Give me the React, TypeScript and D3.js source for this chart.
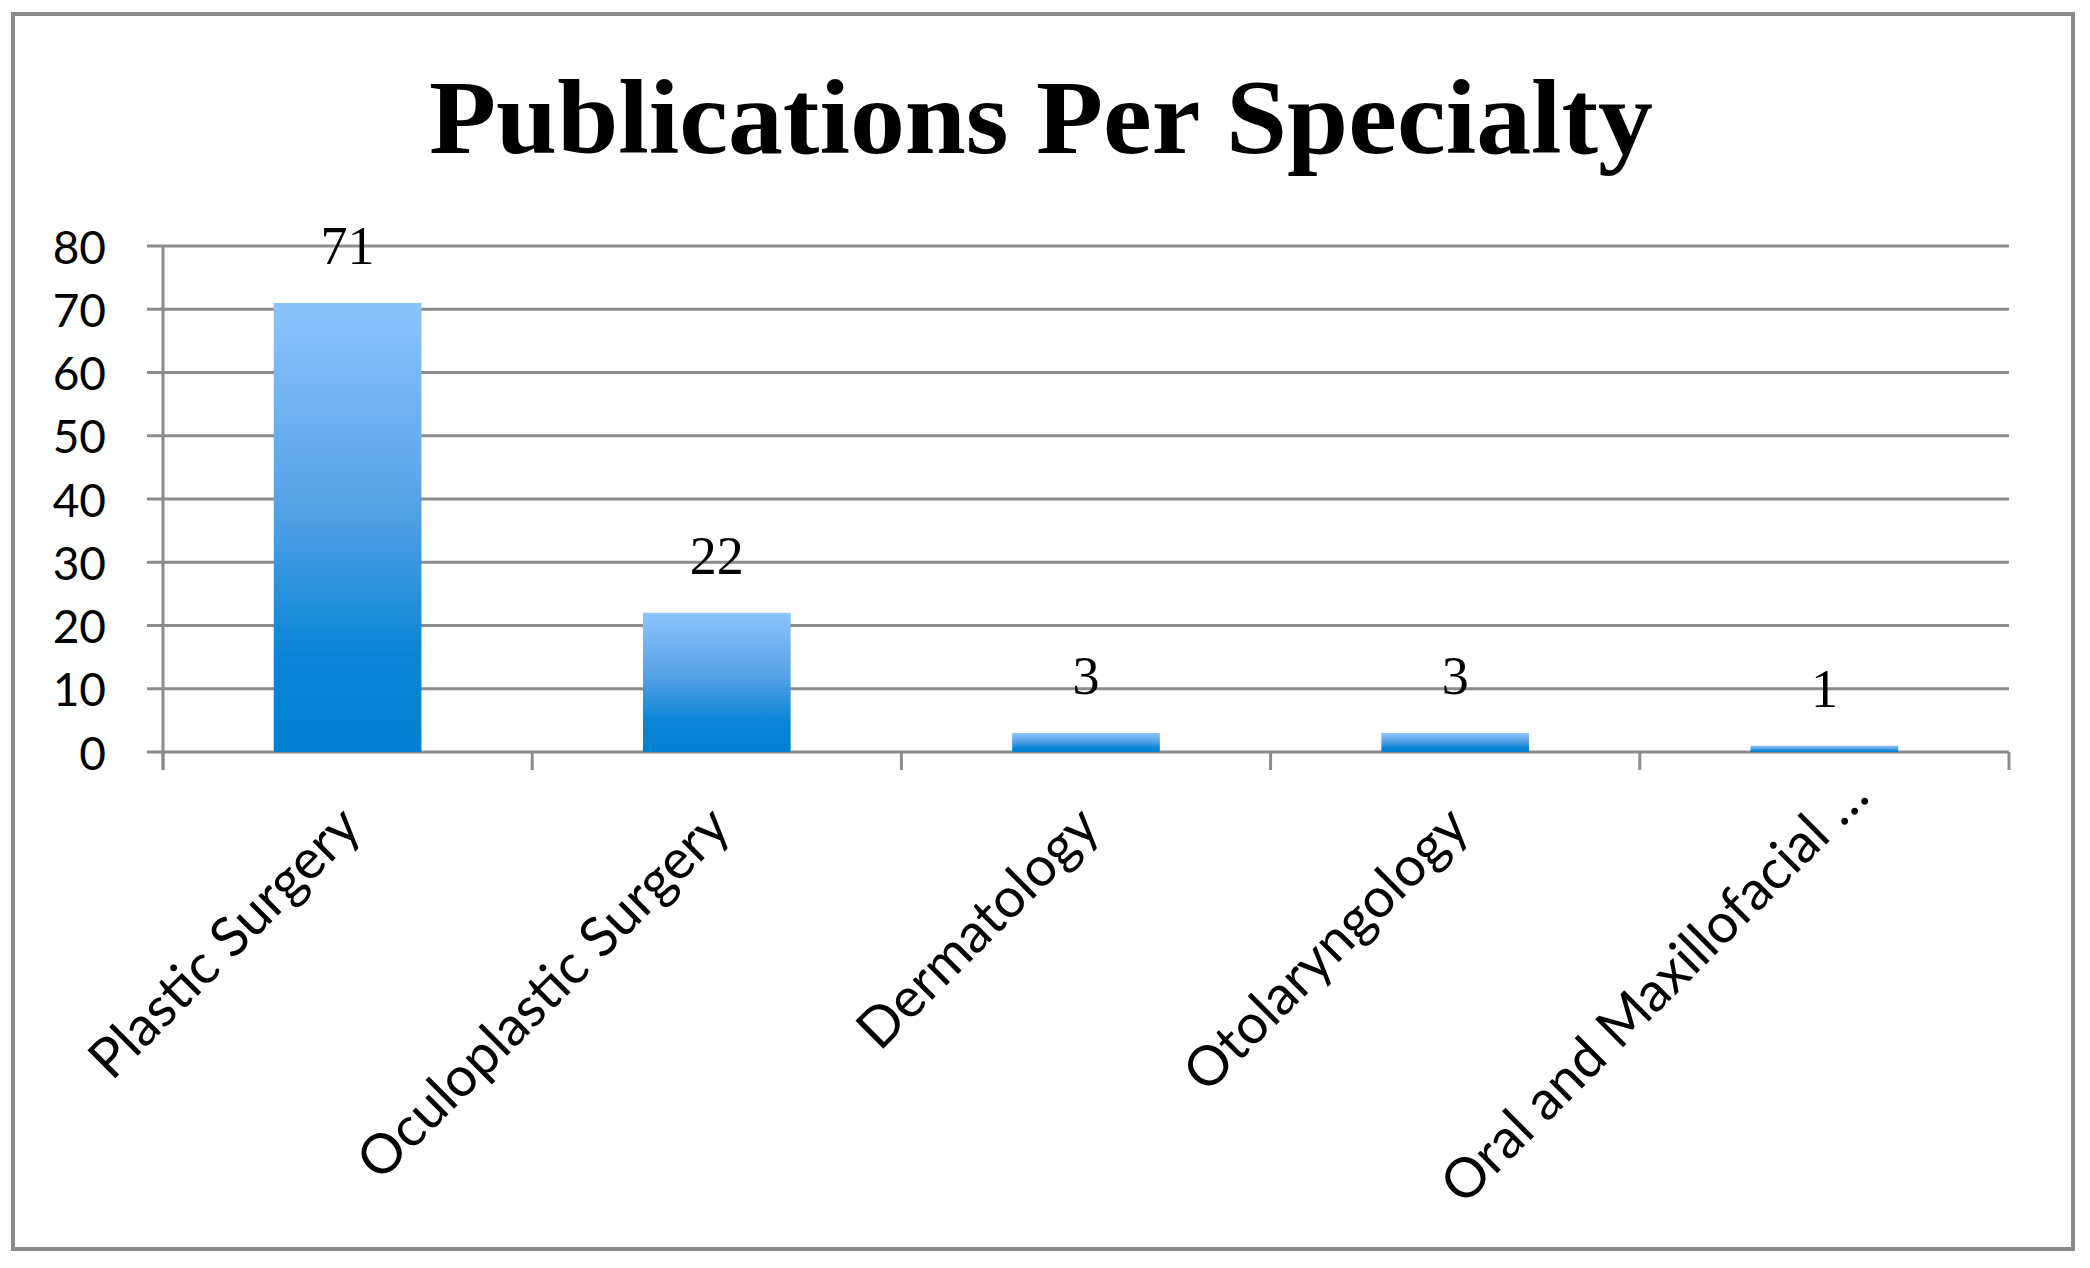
import React from "react";
import * as d3 from "d3";

const categories = [
  "Plastic Surgery",
  "Oculoplastic Surgery",
  "Dermatology",
  "Otolaryngology",
  "Oral and Maxillofacial \u2026",
];
const publications = [71, 22, 3, 3, 1];
const yTicks = [0, 10, 20, 30, 40, 50, 60, 70, 80];
const title = "Publications Per Specialty";

const W = 2090;
const H = 1268;
const plotLeft = 163;
const plotRight = 2009;
const plotTop = 246;
const plotBottom = 752;

export default function App() {
  const x = d3
    .scaleBand<string>()
    .domain(categories)
    .range([plotLeft, plotRight])
    .paddingInner(0.6)
    .paddingOuter(0.3);
  const y = d3.scaleLinear().domain([0, 80]).range([plotBottom, plotTop]);
  const step = x.step();
  const boundaries = d3.range(categories.length + 1).map((i) => plotLeft + i * step);
  const gridColor = "#8c8c8c";

  return (
    <svg
      width={W}
      height={H}
      viewBox={`0 0 ${W} ${H}`}
      style={{ position: "absolute", left: 0, top: 0, background: "#fff" }}
    >
      <defs>
        <linearGradient id="barGrad" x1="0" y1="0" x2="0" y2="1">
          <stop offset="0" stopColor="#8cc4fd" />
          <stop offset="0.45" stopColor="#56a2e6" />
          <stop offset="0.78" stopColor="#0a85d5" />
          <stop offset="1" stopColor="#0080d0" />
        </linearGradient>
      </defs>
      <rect x={0} y={0} width={W} height={H} fill="#fff" />
      {/* outer border */}
      <rect x={13} y={14} width={2060} height={1235} fill="none" stroke="#8a8a8a" strokeWidth={4} />

      {/* title */}
      <text
        x={1041}
        y={153}
        textAnchor="middle"
        fontFamily="'Liberation Serif', 'DejaVu Serif', serif"
        fontWeight="bold"
        fontSize={106}
        fill="#000"
        textLength={1224}
        lengthAdjust="spacingAndGlyphs"
      >
        {title}
      </text>

      {/* gridlines */}
      {yTicks.map((t) => (
        <line
          key={"g" + t}
          x1={plotLeft - 16}
          x2={plotRight}
          y1={y(t)}
          y2={y(t)}
          stroke={gridColor}
          strokeWidth={3}
        />
      ))}
      {/* y axis line */}
      <line x1={plotLeft} x2={plotLeft} y1={plotTop} y2={plotBottom + 18} stroke={gridColor} strokeWidth={3} />
      {/* category ticks */}
      {boundaries.map((bx, i) => (
        <line key={"t" + i} x1={bx} x2={bx} y1={plotBottom} y2={plotBottom + 18} stroke={gridColor} strokeWidth={3} />
      ))}

      {/* y tick labels */}
      {yTicks.map((t) => (
        <text
          key={"yl" + t}
          x={106}
          y={y(t)}
          textAnchor="end"
          dominantBaseline="central"
          fontFamily="Lato, 'Open Sans', sans-serif"
          fontSize={46}
          fill="#000"
        >
          {t}
        </text>
      ))}

      {/* bars */}
      {categories.map((c, i) => (
        <rect
          key={"b" + c}
          x={x(c)}
          y={y(publications[i])}
          width={x.bandwidth()}
          height={y(0) - y(publications[i])}
          fill="url(#barGrad)"
        />
      ))}

      {/* value labels */}
      {categories.map((c, i) => (
        <text
          key={"v" + c}
          x={(x(c) as number) + x.bandwidth() / 2}
          y={y(publications[i]) - 39}
          textAnchor="middle"
          fontFamily="'Liberation Serif', 'DejaVu Serif', serif"
          fontSize={54}
          fill="#000"
        >
          {publications[i]}
        </text>
      ))}

      {/* category labels */}
      {categories.map((c) => {
        const cx = (x(c) as number) + x.bandwidth() / 2;
        const ax = cx + 16;
        const ay = plotBottom + 78;
        const truncated = c.endsWith("\u2026");
        return (
          <text
            key={"c" + c}
            x={ax}
            y={ay}
            dx={truncated ? 44 : 0}
            textAnchor="end"
            transform={`rotate(-45 ${ax} ${ay})`}
            fontFamily="Lato, 'Open Sans', sans-serif"
            fontSize={55}
            fill="#000"
          >
            {c}
          </text>
        );
      })}
    </svg>
  );
}
